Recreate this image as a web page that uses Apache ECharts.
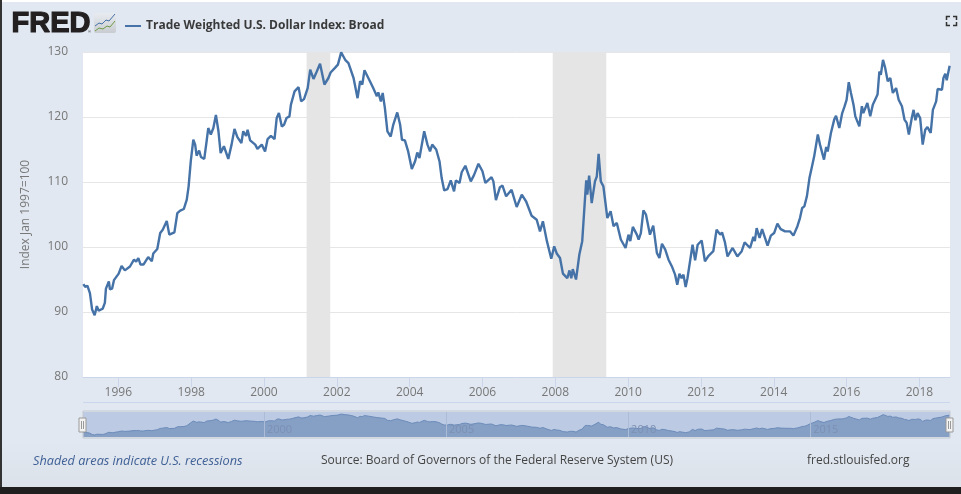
<!DOCTYPE html>
<html>
<head>
<meta charset="utf-8">
<style>
  html, body { margin: 0; padding: 0; background: #e1e8f1; }
  #chart { width: 961px; height: 494px; }
</style>
<script src="https://cdn.jsdelivr.net/npm/echarts@6/dist/echarts.min.js"></script>
</head>
<body>
<div id="chart"></div>
<script>
const seriesName = 'Trade Weighted U.S. Dollar Index: Broad';

// decimal years
const years = [
  1995.04, 1995.09, 1995.15, 1995.22, 1995.28, 1995.35, 1995.41, 1995.46, 1995.57, 1995.63,
  1995.66, 1995.74, 1995.77, 1995.83, 1995.88, 1996.01, 1996.09, 1996.18, 1996.32, 1996.43,
  1996.49, 1996.55, 1996.61, 1996.69, 1996.82, 1996.92, 1996.96, 1997.07, 1997.15, 1997.22,
  1997.33, 1997.40, 1997.54, 1997.62, 1997.70, 1997.80, 1997.88, 1997.93, 1997.99, 1998.06,
  1998.11, 1998.15, 1998.22, 1998.27, 1998.36, 1998.43, 1998.47, 1998.54, 1998.61, 1998.68,
  1998.75, 1998.81, 1998.90, 1999.02, 1999.11, 1999.19, 1999.27, 1999.38, 1999.43, 1999.51,
  1999.55, 1999.62, 1999.76, 1999.82, 1999.94, 2000.03, 2000.10, 2000.19, 2000.29, 2000.35,
  2000.41, 2000.49, 2000.55, 2000.62, 2000.70, 2000.74, 2000.79, 2000.84, 2000.95, 2001.02,
  2001.10, 2001.20, 2001.27, 2001.36, 2001.45, 2001.54, 2001.66, 2001.77, 2001.83, 2001.95,
  2002.03, 2002.12, 2002.23, 2002.32, 2002.46, 2002.57, 2002.64, 2002.70, 2002.76, 2002.91,
  2003.00, 2003.10, 2003.14, 2003.21, 2003.26, 2003.32, 2003.39, 2003.48, 2003.55, 2003.66,
  2003.74, 2003.79, 2003.87, 2003.96, 2004.06, 2004.15, 2004.21, 2004.27, 2004.40, 2004.49,
  2004.56, 2004.62, 2004.73, 2004.82, 2004.88, 2004.95, 2005.04, 2005.13, 2005.22, 2005.27,
  2005.37, 2005.43, 2005.53, 2005.68, 2005.77, 2005.89, 2006.00, 2006.08, 2006.25, 2006.30,
  2006.37, 2006.48, 2006.55, 2006.65, 2006.80, 2006.94, 2007.08, 2007.20, 2007.35, 2007.49,
  2007.58, 2007.66, 2007.77, 2007.89, 2007.97, 2008.04, 2008.13, 2008.21, 2008.33, 2008.39,
  2008.44, 2008.48, 2008.57, 2008.66, 2008.74, 2008.82, 2008.85, 2008.88, 2008.93, 2009.00,
  2009.09, 2009.14, 2009.19, 2009.25, 2009.32, 2009.43, 2009.52, 2009.60, 2009.69, 2009.80,
  2009.93, 2010.01, 2010.06, 2010.13, 2010.24, 2010.29, 2010.35, 2010.42, 2010.49, 2010.60,
  2010.69, 2010.79, 2010.86, 2010.93, 2011.02, 2011.11, 2011.20, 2011.29, 2011.35, 2011.41,
  2011.47, 2011.52, 2011.58, 2011.63, 2011.68, 2011.77, 2011.84, 2011.91, 2012.02, 2012.11,
  2012.21, 2012.34, 2012.43, 2012.53, 2012.58, 2012.66, 2012.73, 2012.87, 2013.00, 2013.12,
  2013.20, 2013.35, 2013.44, 2013.48, 2013.53, 2013.61, 2013.68, 2013.83, 2013.92, 2014.01,
  2014.10, 2014.19, 2014.31, 2014.45, 2014.54, 2014.65, 2014.72, 2014.78, 2014.84, 2014.91,
  2014.98, 2015.05, 2015.11, 2015.15, 2015.21, 2015.27, 2015.38, 2015.44, 2015.48, 2015.57,
  2015.66, 2015.71, 2015.75, 2015.80, 2015.88, 2015.94, 2016.00, 2016.06, 2016.12, 2016.19,
  2016.24, 2016.35, 2016.42, 2016.46, 2016.57, 2016.65, 2016.72, 2016.85, 2016.90, 2016.94,
  2017.00, 2017.06, 2017.13, 2017.20, 2017.27, 2017.36, 2017.43, 2017.52, 2017.59, 2017.65,
  2017.71, 2017.79, 2017.84, 2017.89, 2017.95, 2018.02, 2018.09, 2018.16, 2018.22, 2018.31,
  2018.37, 2018.46, 2018.50, 2018.62, 2018.66, 2018.71, 2018.75, 2018.83
];

const values = [
  94.3, 93.85, 94.05, 92.9, 90.4, 89.5, 90.9, 90.2, 90.5, 91.4,
  93.6, 94.7, 93.5, 93.6, 94.9, 95.9, 97.1, 96.4, 97.0, 98.05,
  97.75, 98.3, 97.3, 97.3, 98.45, 97.8, 99.0, 99.7, 102.15, 102.65,
  104.0, 101.9, 102.25, 105.2, 105.6, 105.85, 107.3, 109.3, 113.2, 116.5,
  115.75, 114.05, 114.85, 113.85, 113.55, 116.5, 118.3, 117.3, 118.3, 120.3,
  117.8, 114.45, 115.5, 113.55, 115.75, 118.15, 116.9, 116.0, 117.8, 117.1,
  118.05, 116.4, 115.75, 115.1, 115.75, 114.7, 116.6, 117.1, 116.6, 119.85,
  120.6, 118.55, 118.8, 119.85, 120.1, 121.9, 121.65, 123.95, 124.6, 122.4,
  122.75, 124.45, 127.3, 125.85, 127.0, 128.2, 125.0, 126.0, 126.85, 127.55,
  128.05, 129.95, 128.8, 128.3, 126.0, 122.9, 125.5, 125.0, 127.2, 125.5,
  124.45, 123.2, 123.8, 122.4, 123.7, 121.4, 117.8, 117.0, 118.8, 120.7,
  118.8, 116.5, 116.4, 114.7, 112.0, 113.2, 114.55, 113.7, 117.8, 115.75,
  114.7, 115.75, 115.0, 113.2, 110.6, 108.7, 108.9, 110.25, 108.55, 110.25,
  109.85, 111.5, 112.5, 110.1, 111.1, 112.8, 111.65, 109.85, 110.75, 110.1,
  107.2, 109.2, 109.45, 107.8, 108.8, 106.15, 108.05, 107.0, 104.8, 104.2,
  102.4, 103.95, 100.9, 98.2, 100.1, 99.0, 98.3, 95.9, 95.2, 96.4,
  95.2, 96.6, 95.0, 98.8, 100.9, 107.8, 110.25, 108.05, 111.0, 106.75,
  110.1, 110.85, 114.35, 110.1, 109.35, 104.45, 105.5, 103.2, 103.7, 101.15,
  99.85, 101.9, 100.9, 103.1, 101.9, 101.15, 102.15, 105.65, 105.0, 101.9,
  103.3, 99.1, 98.3, 100.5, 99.6, 98.05, 97.05, 95.75, 94.2, 95.9,
  95.2, 95.75, 93.85, 95.2, 95.4, 100.35, 97.95, 100.35, 101.0, 97.8,
  98.65, 99.35, 102.65, 101.9, 102.25, 100.7, 98.55, 99.85, 98.55, 99.35,
  100.7, 99.85, 101.55, 100.9, 102.9, 101.4, 102.75, 100.2, 101.75, 102.15,
  103.6, 102.75, 102.4, 102.4, 101.75, 103.2, 104.45, 106.0, 106.25, 107.8,
  110.6, 112.4, 113.95, 114.2, 117.3, 115.75, 113.45, 115.4, 114.7, 117.55,
  119.6, 120.2, 120.5, 118.3, 120.6, 121.55, 122.65, 125.35, 123.7, 121.9,
  120.1, 118.55, 121.65, 120.6, 122.15, 120.1, 121.9, 123.45, 127.0, 126.5,
  128.8, 127.55, 125.5, 126.0, 123.7, 124.45, 122.65, 121.65, 119.6, 119.1,
  117.3, 119.85, 121.1, 119.5, 120.6, 119.85, 115.75, 118.05, 118.45, 117.55,
  121.1, 122.4, 124.3, 124.2, 126.0, 126.65, 125.65, 127.9
];

const recessions = [[2001.17, 2001.82], [2007.93, 2009.4]];
const xTicks = [1996, 1998, 2000, 2002, 2004, 2006, 2008, 2010, 2012, 2014, 2016, 2018];
const navTicks = [2000, 2005, 2010, 2015];

const xMin = 1995.03;
const xMax = 2018.84;
const lineColor = '#4572a7';
const labelFont = '"Open Sans", sans-serif';
const axisGrey = '#777';
const points = years.map((y, i) => [y, values[i]]);

const chart = echarts.init(document.getElementById('chart'), null, { renderer: 'canvas' });

const option = {
  animation: false,
  backgroundColor: '#e1e8f1',
  textStyle: { fontFamily: labelFont },
  legend: {
    data: [seriesName],
    left: 120,
    top: 15,
    itemWidth: 16,
    itemHeight: 2,
    itemGap: 5,
    icon: 'rect',
    textStyle: { fontFamily: labelFont, fontSize: 12, fontWeight: 'bold', color: '#3a3a3a' }
  },
  grid: [
    { left: 83, right: 11, top: 52, bottom: 117, show: true, backgroundColor: '#fff', borderWidth: 0 },
    { left: 83, right: 11, top: 412, height: 25, show: true, backgroundColor: '#bccbe3', borderWidth: 0 }
  ],
  xAxis: [
    {
      type: 'value', gridIndex: 0, min: xMin, max: xMax,
      splitLine: { show: false },
      axisLine: { onZero: false, lineStyle: { color: '#ccd6eb' } },
      axisTick: { customValues: xTicks, length: 10, lineStyle: { color: '#ccd6eb' } },
      axisLabel: { customValues: xTicks, formatter: v => String(v), color: axisGrey, fontSize: 12, margin: 10 }
    },
    {
      type: 'value', gridIndex: 1, min: xMin, max: xMax, z: 4,
      splitLine: { show: false },
      axisLine: { show: false },
      axisTick: { customValues: navTicks, inside: true, length: 25, lineStyle: { color: '#adbcd6' } },
      axisLabel: {
        customValues: navTicks, formatter: v => String(v), color: '#7d90b2', fontSize: 11,
        inside: true, margin: 2, align: 'left', padding: [0, 0, 0, 3]
      }
    }
  ],
  yAxis: [
    {
      type: 'value', gridIndex: 0, min: 80, max: 130, interval: 10,
      name: 'Index Jan 1997=100',
      nameLocation: 'middle',
      nameGap: 51,
      nameTextStyle: { color: axisGrey, fontSize: 12 },
      axisLine: { show: false },
      axisTick: { show: false },
      axisLabel: { color: axisGrey, fontSize: 12, margin: 15 },
      splitLine: { lineStyle: { color: '#e6e6e6' } }
    },
    {
      type: 'value', gridIndex: 1, min: 85.5, max: 134,
      axisLine: { show: false },
      axisTick: { show: false },
      axisLabel: { show: false },
      splitLine: { show: false }
    }
  ],
  series: [
    {
      name: seriesName,
      type: 'line',
      xAxisIndex: 0,
      yAxisIndex: 0,
      data: points,
      showSymbol: false,
      lineStyle: { color: lineColor, width: 2.4 },
      itemStyle: { color: lineColor },
      markArea: {
        silent: true,
        itemStyle: { color: '#e5e5e5' },
        data: recessions.map(r => [{ xAxis: r[0] }, { xAxis: r[1] }])
      }
    },
    {
      name: 'navigator',
      type: 'line',
      xAxisIndex: 1,
      yAxisIndex: 1,
      z: 1,
      data: points,
      showSymbol: false,
      lineStyle: { color: '#6d8cba', width: 1 },
      areaStyle: { color: '#859fc5', opacity: 1, origin: 'start' }
    }
  ],
  graphic: [
    // page edges of the screenshot
    { type: 'rect', shape: { x: 0, y: 0, width: 961, height: 2 }, style: { fill: '#fff' } },
    { type: 'rect', shape: { x: 0, y: 0, width: 2, height: 494 }, style: { fill: '#333' } },
    {
      type: 'rect', shape: { x: 2, y: 440, width: 959, height: 47 },
      style: {
        fill: new echarts.graphic.LinearGradient(0, 0, 0, 1, [
          { offset: 0, color: '#e1e8f1' },
          { offset: 1, color: '#dce2ea' }
        ])
      }
    },
    { type: 'rect', shape: { x: 0, y: 487, width: 961, height: 7 }, style: { fill: '#1f1f1f' } },
    // rule under the x axis labels and navigator frame
    { type: 'rect', shape: { x: 83, y: 402, width: 867, height: 1 }, style: { fill: '#c9d6ec' } },
    { type: 'rect', shape: { x: 83, y: 411, width: 867, height: 27 }, style: { fill: 'none', stroke: '#c4c8cf', lineWidth: 1 }, z: 5 },
    // navigator handles
    { type: 'rect', shape: { x: 79, y: 418, width: 7, height: 14 }, style: { fill: '#f2f2f2', stroke: '#999', lineWidth: 1 }, z: 6 },
    { type: 'line', shape: { x1: 81.5, y1: 421, x2: 81.5, y2: 429 }, style: { stroke: '#999' }, z: 7 },
    { type: 'line', shape: { x1: 83.5, y1: 421, x2: 83.5, y2: 429 }, style: { stroke: '#999' }, z: 7 },
    { type: 'rect', shape: { x: 946, y: 418, width: 7, height: 14 }, style: { fill: '#f2f2f2', stroke: '#999', lineWidth: 1 }, z: 6 },
    { type: 'line', shape: { x1: 948.5, y1: 421, x2: 948.5, y2: 429 }, style: { stroke: '#999' }, z: 7 },
    { type: 'line', shape: { x1: 950.5, y1: 421, x2: 950.5, y2: 429 }, style: { stroke: '#999' }, z: 7 },
    // FRED logo
    {
      type: 'text', left: 11, top: 9,
      style: { text: 'FRED', fontFamily: '"Liberation Sans", sans-serif', fontWeight: 900, fontSize: 29, fill: '#231f20', stroke: '#231f20', lineWidth: 1.2 }
    },
    { type: 'text', left: 88, top: 30, style: { text: '®', fontSize: 4, fill: '#231f20' } },
    {
      type: 'rect', shape: { x: 94, y: 13, width: 22, height: 20, r: 2 },
      style: {
        fill: new echarts.graphic.LinearGradient(0, 0, 0, 1, [
          { offset: 0, color: '#e8ebef' },
          { offset: 1, color: '#c8ccd0' }
        ])
      }
    },
    { type: 'polyline', shape: { points: [[95, 26], [99, 23], [102, 24], [106, 20], [109, 21], [115, 14]] }, style: { stroke: '#4572a7', lineWidth: 1, fill: 'none' } },
    { type: 'polyline', shape: { points: [[95, 31], [99, 28], [103, 29], [107, 26], [110, 27], [115, 21]] }, style: { stroke: '#6d9a45', lineWidth: 1, fill: 'none' } },
    // fullscreen icon
    { type: 'polyline', shape: { points: [[946.5, 20], [946.5, 16.5], [950, 16.5]] }, style: { stroke: '#333', lineWidth: 1.5, fill: 'none' } },
    { type: 'polyline', shape: { points: [[953, 16.5], [956.5, 16.5], [956.5, 20]] }, style: { stroke: '#333', lineWidth: 1.5, fill: 'none' } },
    { type: 'polyline', shape: { points: [[946.5, 22], [946.5, 25.5], [950, 25.5]] }, style: { stroke: '#333', lineWidth: 1.5, fill: 'none' } },
    { type: 'polyline', shape: { points: [[953, 25.5], [956.5, 25.5], [956.5, 22]] }, style: { stroke: '#333', lineWidth: 1.5, fill: 'none' } },
    // footer
    {
      type: 'text', left: 33, top: 455,
      style: { text: 'Shaded areas indicate U.S. recessions', fontFamily: labelFont, fontStyle: 'italic', fontSize: 12.7, fill: '#3e5f96' }
    },
    {
      type: 'text', left: 321, top: 455,
      style: { text: 'Source: Board of Governors of the Federal Reserve System (US)', fontFamily: labelFont, fontSize: 12, fill: '#444' }
    },
    {
      type: 'text', left: 807, top: 455,
      style: { text: 'fred.stlouisfed.org', fontFamily: labelFont, fontSize: 12, fill: '#444' }
    }
  ]
};

chart.setOption(option);
</script>
</body>
</html>
